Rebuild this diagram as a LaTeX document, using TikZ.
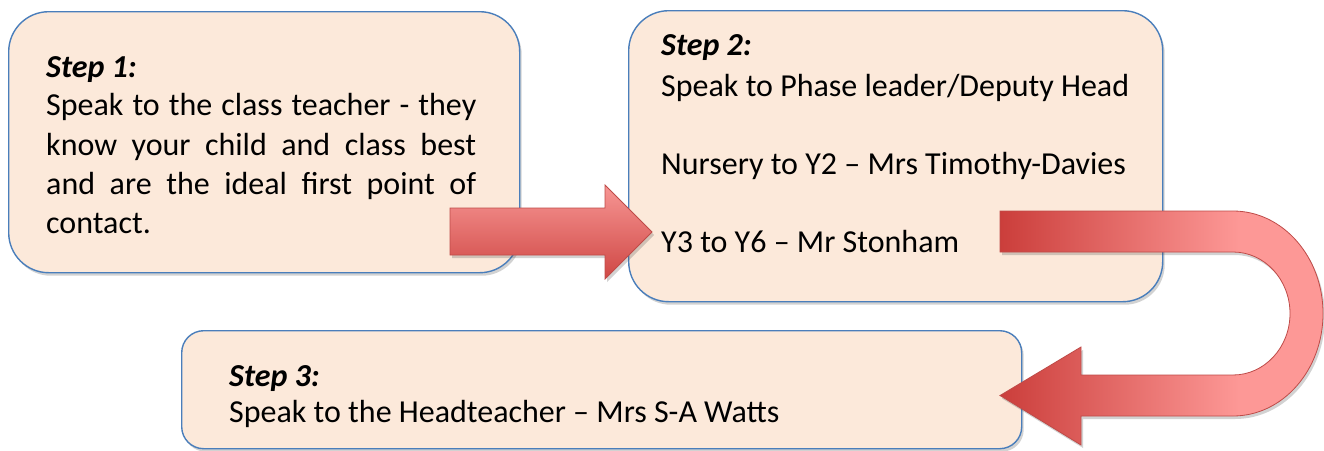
\documentclass[tikz,border=0pt]{standalone}
\usepackage{fontspec}
\setmainfont{Carlito}
\usetikzlibrary{shadows}
\definecolor{boxfill}{HTML}{FCE9DA}
\definecolor{boxline}{HTML}{4A7EBB}
\definecolor{arrline}{HTML}{BE4B48}
\definecolor{arrlight}{HTML}{F79694}
\definecolor{arrdark}{HTML}{CF4744}
\definecolor{udark}{HTML}{CB3E3B}
\definecolor{ulight}{HTML}{FD9896}
\pgfdeclarehorizontalshading{ushade}{100bp}{color(0bp)=(udark); color(25bp)=(udark); color(62bp)=(ulight); color(100bp)=(ulight)}
\tikzset{
  stepbox/.style={draw=boxline, line width=1.4pt, fill=boxfill, anchor=north west, inner sep=0pt,
    drop shadow={shadow xshift=2pt, shadow yshift=-3pt, opacity=0.25, fill=black!70}},
  txt/.style={anchor=base west, inner sep=0pt, font=\fontsize{32}{39}\selectfont},
  ttl/.style={anchor=base west, inner sep=0pt, font=\fontsize{32}{39}\selectfont\bfseries\itshape},
  blockarrow/.style={draw=arrline, line width=0.8pt, line join=miter,
    drop shadow={shadow xshift=2pt, shadow yshift=-3pt, opacity=0.25, fill=black!70}}
}
\begin{document}
\begin{tikzpicture}[x=1pt,y=-1pt]
\useasboundingbox (0,0) rectangle (1324,450);
% boxes
\node[stepbox, rounded corners=40pt, minimum width=511pt, minimum height=261pt] (box1) at (8,11) {};
\node[stepbox, rounded corners=40pt, minimum width=534pt, minimum height=291pt] (box2) at (628,10) {};
\node[stepbox, rounded corners=22pt, minimum width=840pt, minimum height=118pt] (box3) at (181,330) {};
% text box 1
\node[ttl] (s1t) at (46,77) {Step 1:};
\node[txt] (s1a) at (46,115) {\makebox[430pt][s]{Speak to the class teacher - they}};
\node[txt] (s1b) at (46,155) {\makebox[430pt][s]{know your child and class best}};
\node[txt] (s1c) at (46,194) {\makebox[430pt][s]{and are the ideal first point of}};
\node[txt] (s1d) at (46,233) {contact.};
% text box 2
\node[ttl] (s2t) at (661,55) {Step 2:};
\node[txt] (s2a) at (661,96) {Speak to Phase leader/Deputy Head};
\node[txt] (s2b) at (661,174) {Nursery to Y2 – Mrs Timothy-Davies};
\node[txt] (s2c) at (661,252) {Y3 to Y6 – Mr Stonham};
% text box 3
\node[ttl] (s3t) at (229,386) {Step 3:};
\node[txt] (s3a) at (229,422) {Speak to the Headteacher – Mrs S-A Watts};
% arrow 1 -> 2
\path[blockarrow, top color=arrlight, bottom color=arrdark]
  (450,208) -- (605,208) -- (605,185) -- (652,232) -- (605,279) -- (605,255) -- (450,255) -- cycle;
% U-turn arrow 2 -> 3
\path[blockarrow, shading=ushade]
  (1000,211) -- (1233,211)
  arc[start angle=-90, end angle=90, x radius=90, y radius=102.5]
  -- (1081,416) -- (1081,445) -- (1000,395.5) -- (1081,347) -- (1081,375) -- (1233,375)
  arc[start angle=90, end angle=-90, x radius=57, y radius=61.5]
  -- (1000,252) -- cycle;
\end{tikzpicture}
\end{document}
